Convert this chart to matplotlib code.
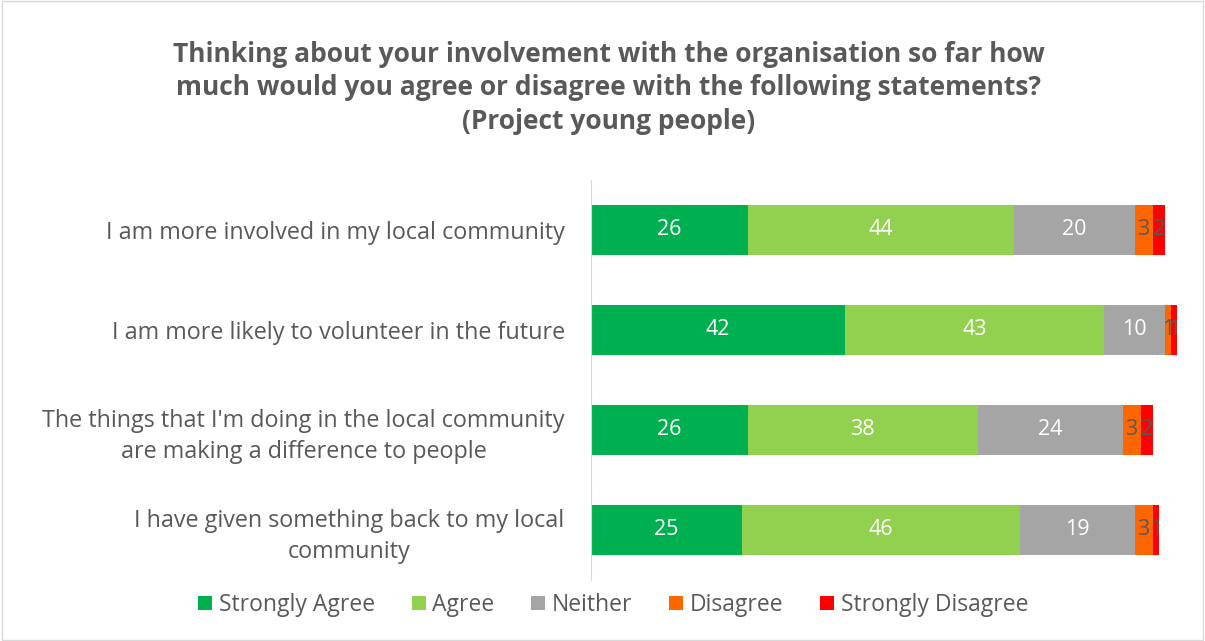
import matplotlib
matplotlib.use("Agg")
import matplotlib.pyplot as plt
from matplotlib.patches import Patch, Rectangle

statements = [
    "I am more involved in my local community",
    "I am more likely to volunteer in the future",
    "The things that I'm doing in the local community\nare making a difference to people",
    "I have given something back to my local\ncommunity",
]
responses = ["Strongly Agree", "Agree", "Neither", "Disagree", "Strongly Disagree"]
strongly_agree = [26, 42, 26, 25]
agree = [44, 43, 38, 46]
neither = [20, 10, 24, 19]
disagree = [3, 1, 3, 3]
strongly_disagree = [2, 1, 2, 1]

series = [strongly_agree, agree, neither, disagree, strongly_disagree]
colors = ["#00B050", "#92D050", "#A5A5A5", "#FF6600", "#FF0000"]
label_colors = ["white", "white", "white", "#595959", "#595959"]

plt.rcParams["font.family"] = ["Open Sans", "DejaVu Sans"]
text_color = "#595959"

fig = plt.figure(figsize=(12.05, 6.41), dpi=100)
fig.patches.append(Rectangle((0.002, 0.002), 0.996, 0.996, transform=fig.transFigure,
                             fill=False, edgecolor="#D9D9D9", linewidth=1))

ax = fig.add_axes([0.4905, 0.0952, 0.5012, 0.624])
y = list(range(len(statements)))
left = [0] * len(statements)
for vals, col, lcol, name in zip(series, colors, label_colors, responses):
    bars = ax.barh(y, vals, left=left, height=0.5, color=col, label=name)
    for b, v in zip(bars, vals):
        ax.text(b.get_x() + b.get_width() / 2, b.get_y() + b.get_height() / 2, str(v),
                ha="center", va="center", color=lcol, fontsize=15.5)
    left = [l + v for l, v in zip(left, vals)]

ax.set_xlim(0, 100)
ax.set_ylim(3.5, -0.5)
ax.set_xticks([])
ax.set_yticks(y)
ax.set_yticklabels(statements, fontsize=16.8, color=text_color, ha="right",
                   multialignment="center", linespacing=1.4)
ax.tick_params(axis="y", length=0, pad=19)
for s in ["top", "right", "bottom"]:
    ax.spines[s].set_visible(False)
ax.spines["left"].set_color("#D9D9D9")

fig.text(0.505, 0.863,
         "Thinking about your involvement with the organisation so far how\n"
         "much would you agree or disagree with the following statements?\n"
         "(Project young people)",
         ha="center", va="center", fontsize=19, fontweight="bold", color=text_color,
         linespacing=1.3)

handles = [Patch(facecolor=c, label=n) for c, n in zip(colors, responses)]
fig.legend(handles=handles, loc="center", bbox_to_anchor=(0.509, 0.056), ncol=5,
           frameon=False, fontsize=16.5, labelcolor=text_color, handlelength=0.6,
           handleheight=0.6, handletextpad=0.3, columnspacing=1.6)

fig.savefig("out.png", dpi=100)
